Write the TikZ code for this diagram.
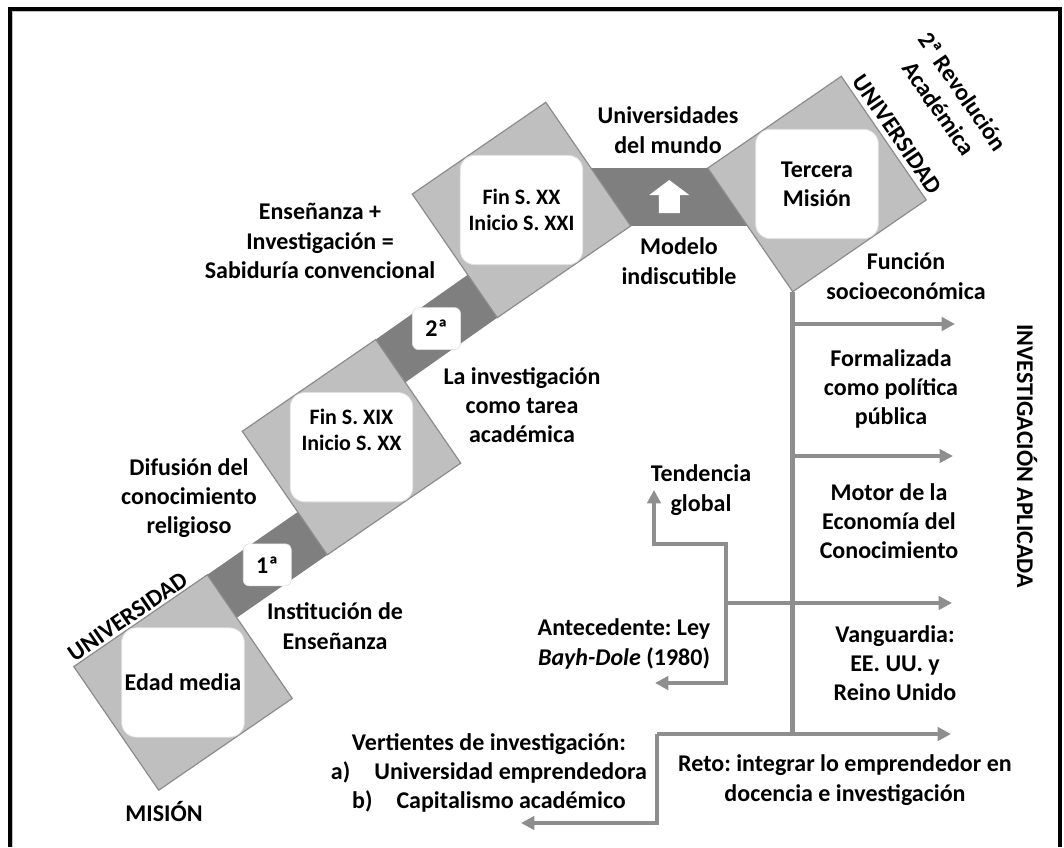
\documentclass[tikz,border=0pt]{standalone}
\usepackage{fontspec}
\setmainfont{Carlito}
\frenchspacing
\usetikzlibrary{arrows.meta,calc}
\definecolor{sqfill}{HTML}{BFBFBF}
\definecolor{sqline}{HTML}{8C8C8C}
\definecolor{bandcol}{HTML}{7F7F7F}
\definecolor{conncol}{HTML}{8E8E8E}
\pgfdeclarelayer{bg}
\pgfdeclarelayer{paper}
\pgfsetlayers{paper,bg,main}
\begin{document}
\begin{tikzpicture}[x=0.75pt,y=-0.75pt,
  sq/.style={rectangle, minimum width=121.5pt, minimum height=112.5pt, inner sep=0pt, outer sep=0pt,
    fill=sqfill, draw=sqline, line width=0.9pt, rotate=34.5},
  wbox/.style={rectangle, rounded corners=11pt, fill=white, draw=black!12, line width=0.6pt,
    minimum width=92pt, minimum height=82pt, inner sep=0pt, align=center},
  tbox/.style={rectangle, rounded corners=4.5pt, fill=white, draw=black!12, line width=0.5pt,
    minimum width=36pt, minimum height=31.5pt, inner sep=0pt, font=\fontsize{18}{22}\selectfont\bfseries},
  lbl/.style={inner sep=0pt, align=center, font=\fontsize{18}{22}\selectfont\bfseries},
  small/.style={font=\fontsize{16.5}{20}\selectfont\bfseries},
  big/.style={font=\fontsize{18}{22}\selectfont\bfseries},
  conn/.style={draw=conncol, line width=3.4pt, line join=miter, -{Triangle[length=10pt,width=10pt]}},
  plain/.style={draw=conncol, line width=3.4pt, line join=miter}
]
\useasboundingbox (0,0) rectangle (1064,847);
\begin{pgfonlayer}{paper}
\fill[white] (0,0) rectangle (1064,847);
\end{pgfonlayer}
% frame
\draw[line width=3pt] (9.5,847) -- (9.5,8.5) -- (1060,8.5) -- (1060,847);
\draw[black!25, line width=0.8pt] (12.5,847) -- (12.5,11.5) -- (1057,11.5);

% squares
\node[sq] (sq1) at (183,682.5) {};
\node[sq] (sq2) at (351.5,447.2) {};
\node[sq] (sq3) at (521.5,210) {};
\node[sq] (sq4) at (817,184) {};

% bands
\begin{pgfonlayer}{bg}
\fill[bandcol] (sq1.north east) -- ($(sq2.south west)!0.347!(sq2.north west)$) -- (sq2.south west)
   -- ($(sq1.north east)!0.347!(sq1.south east)$) -- cycle;
\fill[bandcol] (sq2.north east) -- ($(sq3.south west)!0.347!(sq3.north west)$) -- (sq3.south west)
   -- ($(sq2.north east)!0.347!(sq2.south east)$) -- cycle;
\fill[bandcol] (sq3.center |- sq4.north west) rectangle (sq4.center |- sq3.south east);
\end{pgfonlayer}

% white up arrow
\coordinate (wa) at ($(sq3.south east)!0.5!(sq4.north west)$);
\fill[white] ($(wa)+(0,-17)$) -- ++(20,15) -- ++(-9.5,0) -- ++(0,18) -- ++(-21,0) -- ++(0,-18) -- ++(-9.5,0) -- cycle;

% white boxes
\node[wbox, big] (b1) at (sq1.center) {Edad media};
\node[wbox, small] (b2) at (sq2.center) {Fin S. XIX\\Inicio S. XX\\[6pt]};
\node[wbox, small] (b3) at (sq3.center) {Fin S. XX\\Inicio S. XXI};
\node[wbox, big] (b4) at (sq4.center) {Tercera\\Misión};

\node[tbox] (n1) at ($(sq1.north east)!0.5!(sq2.south west)$) {1ª};
\node[tbox] (n2) at ($(sq2.north east)!0.5!(sq3.south west)$) {2ª};

% labels along the staircase
\node[lbl] (tUniv) at (668,130) {Universidades\\del mundo};
\node[lbl] (tModelo) at (679,261) {Modelo\\indiscutible};
\node[lbl] (tEns) at (320,241) {Enseñanza +\\Investigación =\\Sabiduría convencional};
\node[lbl] (tInv) at (522,405) {La investigación\\como tarea\\académica};
\node[lbl] (tDif) at (189,498) {Difusión del\\conocimiento\\religioso};
\node[lbl] (tInst) at (335,626) {Institución de\\Enseñanza};
\node[lbl] (tMision) at (164,811) {MISIÓN};
\node[lbl, rotate=34.5] (tUnivL) at (127.5,616.5) {UNIVERSIDAD};
\node[lbl, rotate=-55.5] (tUnivR) at (897.5,134) {UNIVERSIDAD};
\node[lbl, rotate=-55.5] (tRev) at (951,100) {2ª Revolución\\Académica};
\node[lbl, rotate=-90] (tIA) at (1027,456) {INVESTIGACIÓN APLICADA};

% right column labels
\node[lbl] (tFun) at (906,276) {Función\\socioeconómica};
\node[lbl] (tForm) at (891,389) {Formalizada\\como política\\pública};
\node[lbl] (tMotor) at (889,521) {Motor de la\\Economía del\\Conocimiento};
\node[lbl] (tVang) at (895,663) {Vanguardia:\\EE. UU. y\\Reino Unido};
\node[lbl] (tReto) at (845,780) {Reto: integrar lo emprendedor en\\docencia e investigación};
\node[lbl] (tAnt) at (624,644) {Antecedente: Ley\\\textit{Bayh-Dole} (1980)};
\node[lbl] (tTend) at (701,490) {Tendencia\\global};
\node[lbl] (tVert) at (489,773) {Vertientes de investigación:\\a)\hspace{1em}Universidad emprendedora\\b)\hspace{1em}Capitalismo académico};

% connector coordinates
\coordinate (j1) at (sq4.south west |- 0,324);
\coordinate (j2) at (sq4.south west |- 0,456);
\coordinate (j4) at (sq4.south west |- 0,734);
\coordinate (a1) at (955,324);
\coordinate (a2) at (953,456);
\coordinate (a3) at (952,603);
\coordinate (a4) at (951,734);
\coordinate (b3) at (726,603);
\coordinate (tk) at (726,544);
\coordinate (tendTip) at (654,490);
\coordinate (antTip) at (655,683);
\coordinate (c4) at (657,734);
\coordinate (vertTip) at (521,823);

\draw[plain] (sq4.south west) -- (j4);
\draw[conn] (j1) -- (a1);
\draw[conn] (j2) -- (a2);
\draw[conn] (b3) -- (a3);
\draw[conn] (c4) -- (a4);
\draw[conn] (b3) -- (tk) -| (tendTip);
\draw[conn] (b3) |- (antTip);
\draw[conn] (c4) |- (vertTip);
\end{tikzpicture}
\end{document}
